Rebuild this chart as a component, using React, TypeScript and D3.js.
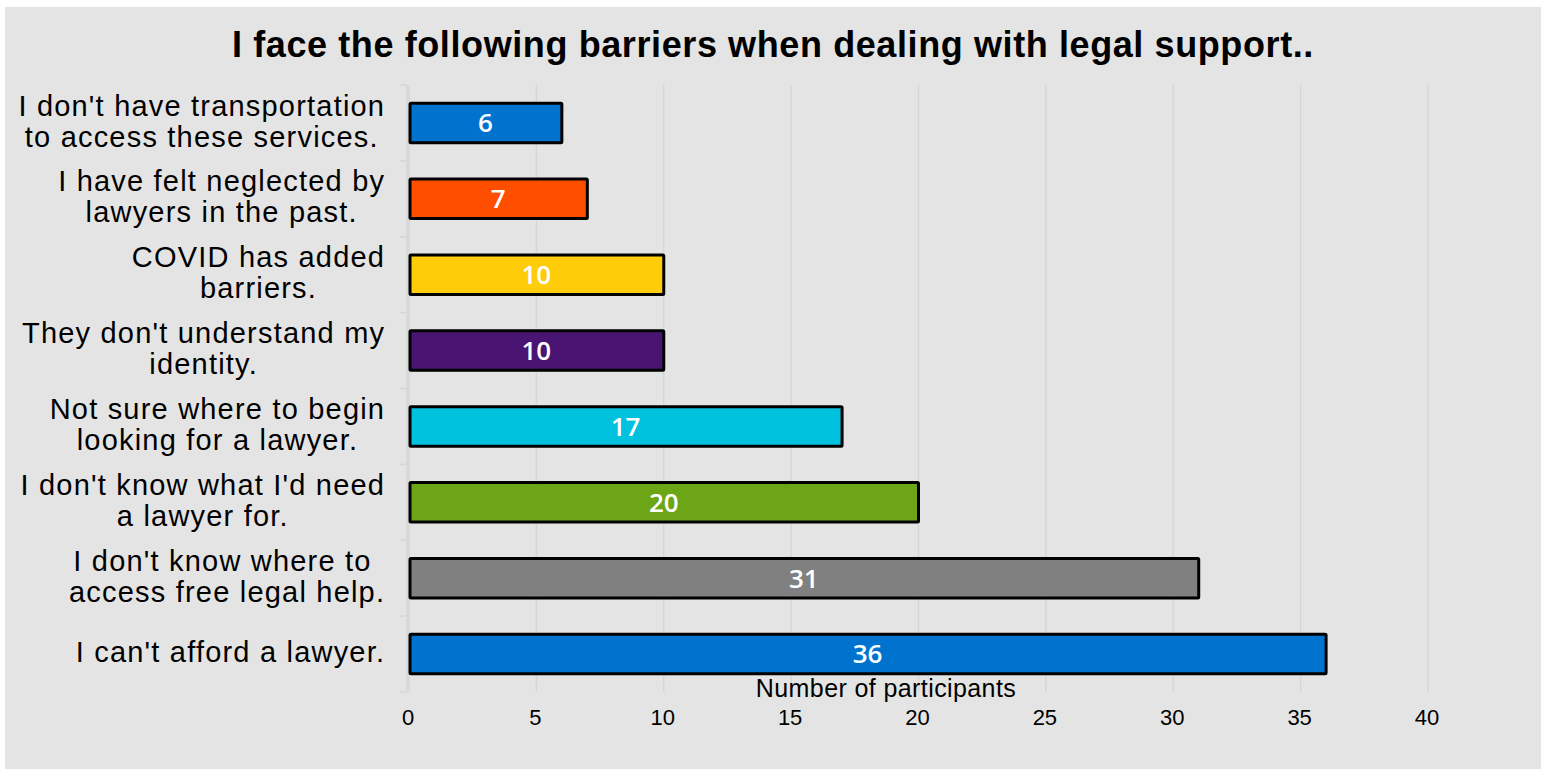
import React from "react";
import * as d3 from "d3";

const categories: string[][] = [
  ["I don't have transportation", "to access these services."],
  ["I have felt neglected by", "lawyers in the past."],
  ["COVID has added", "barriers."],
  ["They don't understand my", "identity."],
  ["Not sure where to begin", "looking for a lawyer."],
  ["I don't know what I'd need", "a lawyer for."],
  ["I don't know where to ", "access free legal help."],
  ["I can't afford a lawyer."],
];
const values: number[] = [6, 7, 10, 10, 17, 20, 31, 36];
const colors: string[] = ["#0073CF", "#FF4E00", "#FFCC0A", "#4A1473", "#00C1DE", "#6CA617", "#808080", "#0073CF"];
const xTicks: number[] = [0, 5, 10, 15, 20, 25, 30, 35, 40];
const title = "I face the following barriers when dealing with legal support..";
const xTitle = "Number of participants";

const W = 1543, H = 769;
const FONT = "'Liberation Sans', Arial, Helvetica, sans-serif";
const LABEL_SIZE = 29;
const LABEL_LS = 1.2;

function measure(text: string, font: string, ls: number): number {
  const c = document.createElement("canvas");
  const ctx = c.getContext("2d")!;
  ctx.font = font;
  return ctx.measureText(text).width + ls * (text.length - 1);
}

export default function App() {
  const x = d3.scaleLinear().domain([0, 40]).range([409, 1428]);
  const idx = categories.map((_, i) => String(i));
  const y = d3.scaleBand().domain(idx).range([85, 692]).paddingInner(0.48).paddingOuter(0.24);
  const bw = y.bandwidth();
  const labelRight = 384;
  const lineH = 31;

  return (
    <svg width={W} height={H} style={{ position: "absolute", left: 0, top: 0 }} fontFamily={FONT}>
      <rect x={5} y={7} width={1536} height={762} fill="#e4e4e4" />
      <text x={773} y={57} textAnchor="middle" fontSize={36} fontWeight="bold" letterSpacing={0.6} fill="#000">{title}</text>
      {xTicks.map((t) => (
        <line key={"g" + t} x1={x(t)} x2={x(t)} y1={85} y2={692} stroke="#d6d6d6" strokeWidth={1.5} />
      ))}
      <line x1={407} x2={407} y1={85} y2={692} stroke="#d6d6d6" strokeWidth={1.5} />
      {d3.range(categories.length + 1).map((i) => (
        <line key={"t" + i} x1={400} x2={407} y1={85 + i * (607 / 8)} y2={85 + i * (607 / 8)} stroke="#d6d6d6" strokeWidth={1.5} />
      ))}
      {categories.map((lines, i) => {
        const font = `${LABEL_SIZE}px ${FONT}`;
        const maxW = Math.max(...lines.map((l) => measure(l.trimEnd(), font, LABEL_LS)));
        const cx = labelRight - maxW / 2;
        const cy = (y(String(i)) as number) + bw / 2;
        const y0 = cy - ((lines.length - 1) * lineH) / 2 + LABEL_SIZE * 0.35 - 2;
        return (
          <text key={"l" + i} textAnchor="middle" fontSize={LABEL_SIZE} letterSpacing={LABEL_LS} fill="#000">
            {lines.map((l, j) => (
              <tspan key={j} x={cx + LABEL_LS / 2} y={y0 + j * lineH}>{l}</tspan>
            ))}
          </text>
        );
      })}
      {values.map((v, i) => (
        <rect key={"b" + i} x={x(0) + 1} y={y(String(i)) as number} width={x(v) - x(0) - 1} height={bw}
          fill={colors[i]} stroke="#000" strokeWidth={3} rx={1} />
      ))}
      {values.map((v, i) => (
        <text key={"v" + i} x={(x(0) + x(v)) / 2} y={(y(String(i)) as number) + bw / 2} dy="0.36em"
          textAnchor="middle" fontSize={26} fontWeight={600} fontFamily="'Open Sans', sans-serif" fill="#fff">{v}</text>
      ))}
      {xTicks.map((t) => (
        <text key={"x" + t} x={x(t) - 1} y={717} dy="0.35em" textAnchor="middle" fontSize={22} fill="#000">{t}</text>
      ))}
      <text x={886} y={688} dy="0.35em" textAnchor="middle" fontSize={25} letterSpacing={0.4} fill="#000">{xTitle}</text>
    </svg>
  );
}
